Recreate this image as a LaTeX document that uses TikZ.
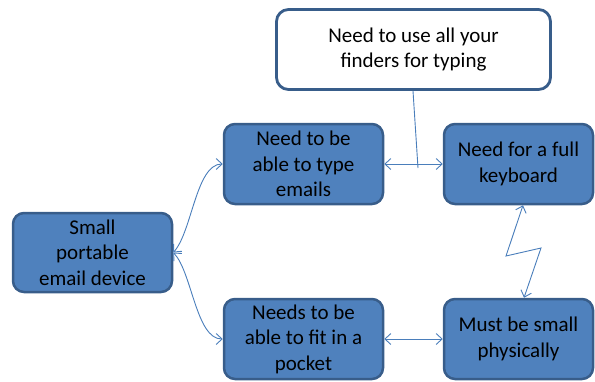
\documentclass[tikz,border=0pt]{standalone}
\usepackage{fontspec}
\setmainfont{Carlito}
\usetikzlibrary{arrows.meta}
\definecolor{boxfill}{HTML}{4F81BD}
\definecolor{boxline}{HTML}{385D8A}
\definecolor{conn}{HTML}{4A7EBB}
\begin{document}
\begin{tikzpicture}[x=1pt,y=-1pt,
  bluebox/.style={draw=boxline, line width=2.5pt, fill=boxfill, rounded corners=11pt,
    align=center, inner sep=0pt, font=\fontsize{21}{25.5}\selectfont, text=black},
  whitebox/.style={draw=boxline, line width=2.8pt, fill=white, rounded corners=12pt,
    align=center, inner sep=0pt, font=\fontsize{21}{25.5}\selectfont, text=black},
  conn/.style={draw=conn, line width=0.9pt},
  tip/.style={{Straight Barb[length=6pt,width=11pt]}-{Straight Barb[length=6pt,width=11pt]}}
]
\useasboundingbox (0,0) rectangle (595,381);
\node[bluebox, minimum width=159pt, minimum height=79pt] (portable) at (92.5,252.5) {Small\\portable\\email device};
\node[bluebox, minimum width=159pt, minimum height=80pt] (type) at (303.5,164) {Need to be\\able to type\\emails};
\node[bluebox, minimum width=159pt, minimum height=80pt] (pocket) at (303.5,339) {Needs to be\\able to fit in a\\pocket};
\node[bluebox, minimum width=149pt, minimum height=80pt] (keyboard) at (518.5,164) {Need for a full\\keyboard};
\node[bluebox, minimum width=149pt, minimum height=80pt] (small) at (518.5,339) {Must be small\\physically};
\node[whitebox, minimum width=274pt, minimum height=80pt] (top) at (413.5,49.5) {Need to use all your\\finders for typing};
\coordinate (j) at (418,168);
\coordinate (z1) at (506,256);
\coordinate (z2) at (541,248);
\draw[conn, tip] (portable.east) .. controls (192,232) and (196,164) .. (type.west);
\draw[conn, tip] (portable.east) .. controls (192,272) and (196,339) .. (pocket.west);
\draw[conn, tip] (type.east) -- (keyboard.west);
\draw[conn, tip] (pocket.east) -- (small.west);
\draw[conn] (top.south -| 413,0) -- (j);
\draw[conn, tip] (keyboard.south -| 523,0) -- (z1) -- (z2) -- (small.north -| 524,0);
\end{tikzpicture}
\end{document}
